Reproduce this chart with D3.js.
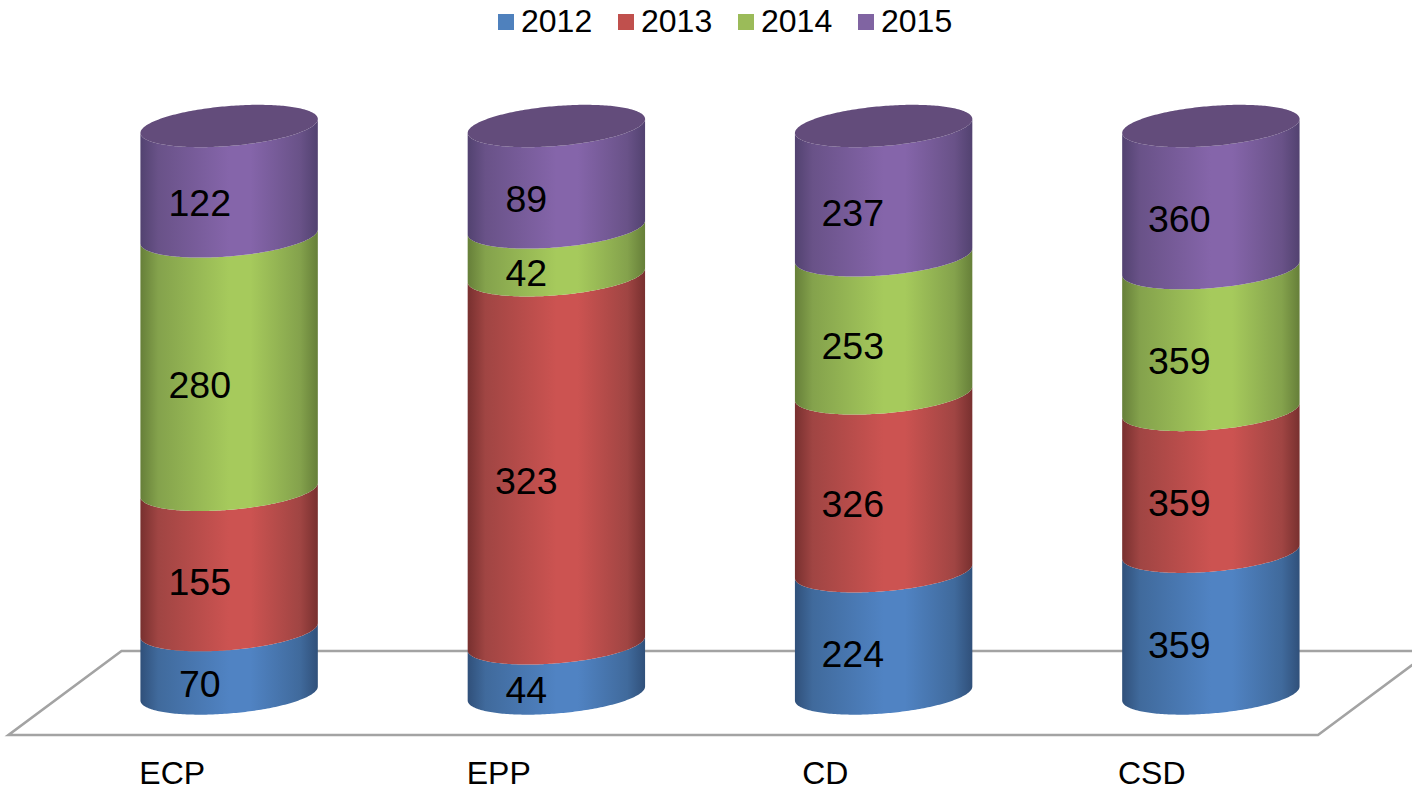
<!DOCTYPE html>
<html><head><meta charset="utf-8">
<style>html,body{margin:0;padding:0;background:#fff}svg{display:block}text{font-family:"Liberation Sans",Arial,sans-serif;fill:#000}</style>
<script src="https://cdn.jsdelivr.net/npm/d3@7"></script></head>
<body><svg id="c" width="1412" height="788"></svg>
<script>
const categories=["ECP","EPP","CD","CSD"];
const years=["2012","2013","2014","2015"];
const v2012=[70,44,224,359];
const v2013=[155,323,326,359];
const v2014=[280,42,253,359];
const v2015=[122,89,237,360];
const seriesValues=[v2012,v2013,v2014,v2015];
const lightColors=["#5083c3","#cc5351","#a6ca5c","#8565aa"];
const midColors=["#406a9c","#a04543","#84a24c","#695288"];
const darkColors=["#30507a","#78302f","#667f39","#524270"];
const legendColors=["#4f81bd","#c0504d","#9bbb59","#8064a2"];
const capColor="#634c7b";

const svg=d3.select("#c");
const x=d3.scaleBand().domain(categories).range([65.5,1374.5]);
const labelX=d3.scaleBand().domain(categories).range([36.5,1342.5]);
const catX=d3.scaleBand().domain(categories).range([9,1315]);
const y=d3.scaleLinear().domain([0,1]).range([693.5,126]);
const R=88.7,A=20,S=7;

const defs=svg.append("defs");
years.forEach((yr,i)=>{
  const g=defs.append("linearGradient").attr("id","g"+i).attr("x1",0).attr("x2",1).attr("y1",0).attr("y2",0);
  [[0,darkColors[i]],[.1,midColors[i]],[.5,lightColors[i]],[.62,lightColors[i]],[.9,midColors[i]],[1,darkColors[i]]]
   .forEach(s=>g.append("stop").attr("offset",s[0]).attr("stop-color",s[1]));
});

const floorLine=d3.line();
const fx=d3.scaleLinear().domain([0,1]).range([8.5,1318]);
const fy=d3.scaleLinear().domain([0,1]).range([735,651]);
const skew=113;
svg.append("path").attr("d",floorLine([[fx(0),fy(0)],[fx(1),fy(0)],[fx(1)+skew,fy(1)],[fx(0)+skew,fy(1)]])+"Z")
  .attr("fill","none").attr("stroke","#a3a3a3").attr("stroke-width",2.6);

const ell=(cx,cy,t)=>[cx+R*Math.cos(t),cy-S*Math.cos(t)+A*Math.sin(t)];
const angles=d3.range(0,121).map(i=>Math.PI*i/120);
const line=d3.line();
function wall(cx,y0,y1){
  const lower=angles.map(t=>ell(cx,y0,t));
  const upper=angles.slice().reverse().map(t=>ell(cx,y1,t));
  return line(lower.concat(upper))+"Z";
}
const full=d3.range(0,241).map(i=>Math.PI*i/120);

categories.forEach((c,ci)=>{
  const cx=x(c)+x.bandwidth()/2;
  const vals=seriesValues.map(s=>s[ci]);
  const total=d3.sum(vals);
  let cum=0;
  vals.forEach((v,si)=>{
    const y0=y(cum/total); cum+=v; const y1=y(cum/total);
    svg.append("path").attr("d",wall(cx,y0,y1)).attr("fill",`url(#g${si})`);
    if(si===vals.length-1){
      svg.append("path").attr("d",line(full.map(t=>ell(cx,y1,t)))+"Z").attr("fill",capColor);
    }
  });
  cum=0;
  vals.forEach(v=>{
    const y0=y(cum/total); cum+=v; const y1=y(cum/total);
    svg.append("text").attr("x",labelX(c)+labelX.bandwidth()/2).attr("y",(y0+y1)/2+22)
      .attr("text-anchor","middle").attr("dominant-baseline","central")
      .attr("font-size",37.5).text(v);
  });
  svg.append("text").attr("x",catX(c)+catX.bandwidth()/2).attr("y",773).attr("text-anchor","middle")
    .attr("dominant-baseline","central").attr("font-size",32).text(c);
});

const lx=d3.scalePoint().domain(years).range([498,858]);
years.forEach((yr,i)=>{
  svg.append("rect").attr("x",lx(yr)).attr("y",14).attr("width",16).attr("height",16).attr("fill",legendColors[i]);
  svg.append("text").attr("x",lx(yr)+23).attr("y",21).attr("dominant-baseline","central").attr("font-size",32).text(yr);
});
</script></body></html>
